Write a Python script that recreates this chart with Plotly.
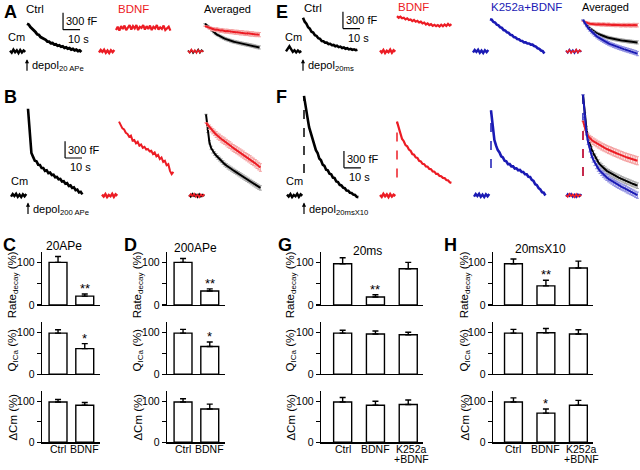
import plotly.graph_objects as go

W, H = 640, 470
FONT = "Liberation Sans, Arial, Helvetica, sans-serif"
BLACK = "#000000"
RED = "#ec1c24"
BLUE = "#1a1ab4"
RED_ERR = "#f4a0a0"
BLUE_ERR = "#8c8ce0"
GRAY_ERR = "#a8a8a8"

PX_PER_S = 1.7
PX_PER_FF = 17.0 / 300.0

# ---------------- trace data (time in s, capacitance change in fF) ----------------
T = [0, 1, 2, 3, 4, 5, 6, 7, 8, 9, 10, 11, 12, 13, 14, 15, 16, 17, 18, 19, 20,
     21, 22, 23, 24, 25, 26, 27, 28, 29, 30, 31, 32]
BT = [-10, -9, -8, -7, -6, -5, -4, -3, -2, -1]

BASE_1 = [10, -25, 30, -15, 20, -30, 25, -20, 15, -10]
BASE_2 = [-20, 25, -10, 30, -25, 15, -30, 20, -15, 25]
BASE_3 = [15, -20, 25, -30, 10, -15, 30, -25, 20, -5]
BASE_BUMP = [0, 40, 90, 40, -10, 20, -20, 15, -15, 5]

# Panel A (20 APe)
A_CTRL = [495, 480, 435, 410, 370, 345, 305, 295, 255, 240, 210, 205, 175, 172, 145, 148, 120,
          125, 100, 108, 82, 90, 62, 72, 48, 58, 32, 44, 18, 30, 5, 16, -12]
A_BDNF = [380, 440, 370, 450, 400, 460, 380, 430, 470, 390, 450, 410, 470, 380, 440, 420, 470,
          390, 450, 400, 460, 380, 440, 410, 470, 390, 430, 400, 460, 380, 420, 440, 370]
A_AVG_CTRL = [495, 470, 440, 410, 380, 350, 320, 300, 285, 265, 250, 235, 222, 210, 200, 190, 180,
              172, 165, 158, 150, 143, 137, 130, 124, 118, 112, 105, 98, 90, 82, 75, 70]
A_AVG_BDNF = [450, 440, 425, 415, 400, 395, 385, 390, 380, 372, 375, 365, 360, 362, 355, 350, 352,
              345, 340, 342, 335, 330, 333, 325, 320, 322, 315, 310, 312, 305, 300, 302, 298]
A_SEM_CTRL = [0, 10, 15, 18, 20, 20, 22, 22, 22, 24, 24, 24, 25, 25, 25, 25, 26,
              26, 26, 26, 27, 27, 27, 27, 28, 28, 28, 28, 28, 28, 28, 28, 28]
A_SEM_BDNF = [0, 15, 20, 25, 28, 30, 30, 32, 32, 32, 34, 34, 34, 35, 35, 35, 36,
              36, 36, 36, 37, 37, 37, 37, 38, 38, 38, 38, 38, 38, 38, 38, 38]

# Panel B (200 APe)
B_CTRL = [1550, 1050, 760, 690, 620, 610, 550, 545, 490, 490, 440, 450, 400, 410, 365, 370, 325,
          330, 290, 295, 250, 255, 210, 220, 170, 180, 135, 145, 95, 105, 55, 65, 20]
B_BDNF = [1320, 1270, 1200, 1180, 1120, 1100, 1050, 1070, 980, 990, 930, 960, 890, 910, 850, 870, 820,
          830, 790, 800, 740, 770, 700, 725, 650, 680, 600, 620, 540, 560, 440, 380, 420]
B_AVG_CTRL = [1450, 1150, 950, 850, 790, 750, 715, 680, 650, 620, 590, 560, 535, 510, 490, 470, 450,
              430, 410, 390, 370, 350, 330, 310, 290, 270, 250, 230, 210, 190, 170, 150, 135]
B_AVG_BDNF = [1300, 1260, 1220, 1180, 1150, 1120, 1090, 1060, 1040, 1010, 990, 970, 945, 920, 900, 875, 850,
              830, 810, 790, 770, 750, 730, 705, 685, 665, 645, 620, 600, 575, 550, 525, 500]
B_SEM_CTRL = [0, 25, 30, 30, 32, 32, 33, 33, 34, 34, 35, 35, 35, 36, 36, 36, 37,
              37, 37, 38, 38, 38, 38, 39, 39, 39, 39, 40, 40, 40, 40, 40, 40]
B_SEM_BDNF = [0, 30, 40, 45, 48, 50, 52, 54, 55, 56, 57, 58, 58, 59, 60, 60, 61,
              61, 62, 62, 63, 63, 64, 64, 65, 65, 66, 66, 67, 67, 68, 68, 68]

# Panel E (20 ms)
E_CTRL = [600, 530, 495, 430, 405, 350, 335, 290, 275, 235, 225, 185, 180, 155, 155, 130, 135,
          110, 115, 90, 100, 75, 85, 60, 70, 45, 55, 35, 45, 25, 35, 20, 30]
E_BDNF = [630, 600, 620, 590, 600, 570, 590, 560, 570, 540, 560, 530, 545, 515, 530, 500, 515,
          480, 500, 470, 485, 455, 475, 450, 470, 445, 475, 450, 480, 455, 490, 460, 485]
E_K252A = [575, 565, 525, 515, 475, 465, 430, 420, 380, 370, 340, 330, 295, 290, 255, 250, 220,
           215, 190, 185, 160, 160, 140, 140, 120, 120, 95, 85, 55, 45, 15, 5, -40]
E_AVG_CTRL = [560, 515, 475, 440, 410, 385, 362, 342, 325, 310, 296, 284, 272, 262, 252, 243, 235,
              228, 221, 215, 209, 204, 199, 194, 189, 185, 181, 177, 173, 169, 166, 163, 160]
E_AVG_BDNF = [540, 525, 510, 505, 495, 490, 492, 485, 482, 486, 480, 478, 482, 476, 474, 478, 472,
              470, 474, 468, 470, 472, 466, 468, 471, 465, 468, 470, 464, 467, 470, 465, 468]
E_AVG_K252A = [560, 505, 460, 420, 385, 352, 322, 295, 270, 248, 228, 209, 191, 174, 158, 143, 129,
               116, 104, 92, 81, 70, 60, 50, 40, 31, 22, 13, 4, -5, -15, -25, -40]
E_SEM_CTRL = [0, 12, 15, 18, 20, 20, 21, 22, 22, 23, 23, 24, 24, 24, 25, 25, 25,
              25, 26, 26, 26, 26, 27, 27, 27, 27, 28, 28, 28, 28, 28, 28, 28]
E_SEM_BDNF = [0, 15, 18, 20, 22, 22, 24, 24, 25, 25, 26, 26, 27, 27, 28, 28, 28,
              28, 29, 29, 29, 30, 30, 30, 30, 30, 31, 31, 31, 31, 32, 32, 32]
E_SEM_K252A = [0, 15, 20, 22, 25, 26, 27, 28, 29, 30, 30, 31, 32, 32, 33, 33, 34,
               34, 35, 35, 35, 36, 36, 36, 37, 37, 37, 38, 38, 38, 38, 38, 38]

# Panel F (20 ms x 10)
F_CTRL = [1780, 1560, 1400, 1220, 1120, 990, 920, 810, 760, 660, 630, 550, 530, 460, 450, 390, 380,
          320, 310, 250, 240, 190, 180, 140, 130, 90, 85, 50, 45, 15, 10, -25, -30]
F_BDNF = [1320, 1190, 1110, 1010, 970, 900, 880, 820, 800, 740, 730, 680, 670, 620, 610, 565, 560,
          520, 515, 475, 470, 430, 425, 385, 385, 350, 345, 315, 310, 275, 270, 235, 225]
F_K252A = [1520, 1210, 990, 890, 810, 770, 700, 680, 620, 610, 560, 560, 520, 520, 480, 485, 450,
           455, 420, 420, 380, 380, 335, 330, 280, 260, 200, 185, 130, 110, 60, 50, 0]
F_AVG_CTRL = [1800, 1450, 1200, 1040, 920, 830, 760, 700, 645, 595, 550, 520, 490, 465, 440, 420, 400,
              382, 365, 350, 335, 320, 305, 290, 275, 262, 250, 238, 225, 212, 200, 188, 175]
F_AVG_BDNF = [1330, 1200, 1120, 1060, 1020, 995, 970, 950, 930, 910, 895, 875, 860, 845, 830, 815, 805,
              790, 775, 765, 750, 740, 725, 715, 700, 690, 680, 670, 660, 650, 640, 630, 620]
F_AVG_K252A = [1800, 1400, 1130, 950, 820, 720, 640, 580, 525, 480, 440, 405, 375, 345, 320, 295, 275,
               255, 235, 215, 195, 180, 165, 150, 135, 120, 100, 85, 70, 55, 40, 20, 5]
F_SEM_CTRL = [0, 30, 35, 38, 40, 40, 42, 42, 43, 44, 44, 45, 45, 46, 46, 46, 47,
              47, 47, 48, 48, 48, 48, 49, 49, 49, 50, 50, 50, 50, 50, 50, 50]
F_SEM_BDNF = [0, 35, 45, 50, 55, 56, 58, 60, 60, 62, 62, 63, 64, 64, 65, 66, 66,
              67, 67, 68, 68, 69, 69, 70, 70, 70, 71, 71, 72, 72, 72, 72, 72]
F_SEM_K252A = [0, 30, 38, 40, 42, 44, 45, 46, 47, 48, 48, 49, 50, 50, 51, 51, 52,
               52, 53, 53, 54, 54, 54, 55, 55, 55, 56, 56, 56, 56, 56, 56, 56]
F_STIM_LOW = [400, 320, 490, 350]   # bottom of the dashed stimulation artefact, fF

# ---------------- bar data (% of control) ----------------
CATS_2 = ["Ctrl", "BDNF"]
CATS_3 = ["Ctrl", "BDNF", "K252a<br>+BDNF"]

C_RATE, C_RATE_SEM = [100, 21], [14, 5]
C_Q, C_Q_SEM = [98, 61], [8, 12]
C_DCM, C_DCM_SEM = [98, 90], [6, 7]

D_RATE, D_RATE_SEM = [100, 33], [9, 5]
D_Q, D_Q_SEM = [98, 66], [9, 11]
D_DCM, D_DCM_SEM = [98, 81], [8, 12]

G_RATE, G_RATE_SEM = [97, 19, 85], [14, 5, 15]
G_Q, G_Q_SEM = [98, 96, 94], [7, 7, 6]
G_DCM, G_DCM_SEM = [98, 90, 92], [11, 10, 11]

H_RATE, H_RATE_SEM = [97, 45, 87], [11, 13, 16]
H_Q, H_Q_SEM = [98, 99, 96], [9, 10, 10]
H_DCM, H_DCM_SEM = [98, 71, 90], [10, 10, 12]

C_STARS = [["", "**"], ["", "*"], ["", ""]]
D_STARS = [["", "**"], ["", "*"], ["", ""]]
G_STARS = [["", "**", ""], ["", "", ""], ["", "", ""]]
H_STARS = [["", "**", ""], ["", "", ""], ["", "*", ""]]

# ---------------- figure building ----------------
fig = go.Figure()
lay = dict(width=W, height=H, margin=dict(l=0, r=0, t=0, b=0),
           paper_bgcolor="white", plot_bgcolor="white", showlegend=False,
           font=dict(family=FONT, size=11, color=BLACK))
ann = []
shapes = []
n_ax = [0]


def px(x):
    return x / W


def py(y):
    return 1 - y / H


def add_axes(xdom, ydom, xaxis, yaxis):
    n_ax[0] += 1
    s = "" if n_ax[0] == 1 else str(n_ax[0])
    xaxis.update(domain=xdom, anchor="y" + s)
    yaxis.update(domain=ydom, anchor="x" + s)
    lay["xaxis" + s] = xaxis
    lay["yaxis" + s] = yaxis
    return "x" + s, "y" + s


def trace_panel(x0, x1, t0, y0, y1, base):
    xr = [(x0 - t0) / PX_PER_S, (x1 - t0) / PX_PER_S]
    yr = [(base - y1) / PX_PER_FF, (base - y0) / PX_PER_FF]
    hid = dict(visible=False, fixedrange=True, showgrid=False, zeroline=False)
    return add_axes([px(x0), px(x1)], [py(y1), py(y0)],
                    dict(range=xr, **hid), dict(range=yr, **hid))


def line(ax, x, y, color, width=2.4, dash=None, err=None, errcolor=None):
    tr = go.Scatter(x=x, y=y, mode="lines", line=dict(color=color, width=width, dash=dash),
                    xaxis=ax[0], yaxis=ax[1], hoverinfo="skip")
    if err is not None:
        tr.error_y = dict(type="data", array=err, color=errcolor, thickness=1, width=1.5, visible=True)
    fig.add_trace(tr)


def text(xpx, ypx, s, size=12, color=BLACK, xanchor="left", yanchor="middle", angle=0):
    ann.append(dict(x=px(xpx), y=py(ypx), xref="paper", yref="paper", text=s, showarrow=False,
                    xanchor=xanchor, yanchor=yanchor, textangle=angle,
                    font=dict(family=FONT, size=size, color=color)))


def atext(ax, x, y, s, size=11, xanchor="left", yanchor="middle", color=BLACK, yshift=0):
    ann.append(dict(x=x, y=y, xref=ax[0], yref=ax[1], text=s, showarrow=False,
                    xanchor=xanchor, yanchor=yanchor, yshift=yshift,
                    font=dict(family=FONT, size=size, color=color)))


def scalebar(ax, sx, sy):
    shapes.append(dict(type="line", xref=ax[0], yref=ax[1], x0=sx, x1=sx, y0=sy, y1=sy + 300,
                       line=dict(color=BLACK, width=1.2)))
    shapes.append(dict(type="line", xref=ax[0], yref=ax[1], x0=sx, x1=sx + 10, y0=sy, y1=sy,
                       line=dict(color=BLACK, width=1.2)))
    atext(ax, sx + 0.8, sy + 150, "300 fF", size=11)
    atext(ax, sx + 1.8, sy, "10 s", size=11, yanchor="top", yshift=-1)


def depol(ax, head_ff, label):
    ann.append(dict(x=0, y=head_ff, xref=ax[0], yref=ax[1], ax=0, ay=13, text="", showarrow=True,
                    arrowhead=2, arrowsize=0.7, arrowwidth=1.2, arrowcolor=BLACK))
    atext(ax, 1.8, head_ff - 130, "depol<sub>" + label + "</sub>", size=11)


# ---- Panel A ----
a1 = trace_panel(0, 95, 27, 2, 80, 52)
line(a1, BT, BASE_1, BLACK)
line(a1, T, A_CTRL, BLACK, width=2.8)
scalebar(a1, 21.2, 388)
atext(a1, -6, 120, "Cm", xanchor="center", yanchor="bottom")
depol(a1, -140, "20 APe")
a2 = trace_panel(95, 180, 116, 2, 80, 52)
line(a2, BT, BASE_2, RED)
line(a2, T, A_BDNF, RED, width=2.2)
a3 = trace_panel(180, 268, 205, 2, 80, 52)
line(a3, BT, BASE_3, BLACK, width=1.6)
line(a3, BT, BASE_1, RED, width=1.6)
line(a3, T, A_AVG_CTRL, BLACK, width=2.0, err=A_SEM_CTRL, errcolor=GRAY_ERR)
line(a3, T, A_AVG_BDNF, RED, width=2.0, err=A_SEM_BDNF, errcolor=RED_ERR)

# ---- Panel B ----
b1 = trace_panel(0, 95, 28, 88, 222, 198)
line(b1, BT, BASE_2, BLACK)
line(b1, T, B_CTRL, BLACK, width=2.6)
scalebar(b1, 21.8, 670)
atext(b1, -5, 110, "Cm", xanchor="center", yanchor="bottom")
depol(b1, -125, "200 APe")
b2 = trace_panel(95, 180, 119, 88, 222, 198)
line(b2, BT, BASE_3, RED)
line(b2, T, B_BDNF, RED, width=2.0)
b3 = trace_panel(180, 268, 206, 88, 222, 198)
line(b3, BT, BASE_1, BLACK, width=1.6)
line(b3, BT, BASE_2, RED, width=1.6)
line(b3, T, B_AVG_CTRL, BLACK, width=2.0, err=B_SEM_CTRL, errcolor=GRAY_ERR)
line(b3, T, B_AVG_BDNF, RED, width=2.0, err=B_SEM_BDNF, errcolor=RED_ERR)

# ---- Panel E ----
e1 = trace_panel(270, 370, 303, 2, 80, 52)
line(e1, BT, BASE_BUMP, BLACK)
line(e1, T, E_CTRL, BLACK, width=2.6)
scalebar(e1, 23.5, 406)
atext(e1, -5.5, 120, "Cm", xanchor="center", yanchor="bottom")
depol(e1, -140, "20ms")
e2 = trace_panel(370, 463, 397, 2, 80, 52)
line(e2, BT, BASE_3, RED)
line(e2, T, E_BDNF, RED, width=2.2)
e3 = trace_panel(463, 556, 490, 2, 80, 52)
line(e3, BT, BASE_2, BLUE)
line(e3, T, E_K252A, BLUE, width=2.6)
e4 = trace_panel(556, 640, 583, 2, 80, 52)
line(e4, BT, BASE_1, BLUE, width=1.8)
line(e4, BT, BASE_3, RED, width=1.6)
line(e4, T, E_AVG_CTRL, BLACK, width=2.0, err=E_SEM_CTRL, errcolor=GRAY_ERR)
line(e4, T, E_AVG_BDNF, RED, width=2.0, err=E_SEM_BDNF, errcolor=RED_ERR)
line(e4, T, E_AVG_K252A, BLUE, width=2.0, err=E_SEM_K252A, errcolor=BLUE_ERR)

# ---- Panel F ----
f_cols = [(270, 370, 304), (370, 463, 397), (463, 556, 491), (556, 640, 583)]
f1 = trace_panel(*f_cols[0], 88, 222, 198)
line(f1, BT, BASE_3, BLACK)
line(f1, [T[0], T[0]], [F_STIM_LOW[0], F_CTRL[0]], BLACK, width=1.5, dash="dash")
line(f1, T, F_CTRL, BLACK, width=2.6)
scalebar(f1, 23.5, 494)
atext(f1, -5.5, 110, "Cm", xanchor="center", yanchor="bottom")
depol(f1, -125, "20msX10")
f2 = trace_panel(*f_cols[1], 88, 222, 198)
line(f2, BT, BASE_1, RED)
line(f2, [T[0], T[0]], [F_STIM_LOW[1], F_BDNF[0]], RED, width=1.5, dash="dash")
line(f2, T, F_BDNF, RED, width=2.2)
f3 = trace_panel(*f_cols[2], 88, 222, 198)
line(f3, BT, BASE_2, BLUE)
line(f3, [T[0], T[0]], [F_STIM_LOW[2], F_K252A[0]], BLUE, width=1.5, dash="dash")
line(f3, T, F_K252A, BLUE, width=2.6)
f4 = trace_panel(*f_cols[3], 88, 222, 198)
line(f4, BT, BASE_2, BLUE, width=1.8)
line(f4, BT, BASE_1, RED, width=1.6)
line(f4, [T[0], T[0]], [F_STIM_LOW[3], F_AVG_K252A[0]], BLUE, width=1.5, dash="dash")
line(f4, [T[0], T[0]], [F_STIM_LOW[3], F_AVG_BDNF[0]], RED, width=1.5, dash="dash")
line(f4, T, F_AVG_CTRL, BLACK, width=2.0, err=F_SEM_CTRL, errcolor=GRAY_ERR)
line(f4, T, F_AVG_BDNF, RED, width=2.0, err=F_SEM_BDNF, errcolor=RED_ERR)
line(f4, T, F_AVG_K252A, BLUE, width=2.0, err=F_SEM_K252A, errcolor=BLUE_ERR)

# ---- trace panel labels ----
text(2, 12, "<b>A</b>", size=18)
text(2, 98, "<b>B</b>", size=18)
text(274, 12, "<b>E</b>", size=18)
text(274, 98, "<b>F</b>", size=18)
text(24, 9, "Ctrl", size=11.5)
text(116, 9, "BDNF", size=11.5, color=RED)
text(202, 9, "Averaged", size=11)
text(302, 8, "Ctrl", size=11.5)
text(396, 7, "BDNF", size=11.5, color=RED)
text(489, 7, "K252a+BDNF", size=11.5, color=BLUE)
text(580, 7, "Averaged", size=11)

# ---- bar panels ----
ROWS = [(255, 309), (326, 379), (396, 448)]
TITLE_Y = [289, 355, 423]
YTITLES = ["Rate<sub>decay</sub> (%)", "Q<sub>ICa</sub> (%)", "\u0394Cm (%)"]


def bar_panel(x0, x1, cats, rows, stars, xr, width, title_x):
    for i, ((y0, y1), (vals, sems)) in enumerate(zip(ROWS, rows)):
        xa = dict(type="category", range=xr, showline=True, linecolor=BLACK, linewidth=1.3,
                  ticks="", showticklabels=False, showgrid=False, zeroline=False, fixedrange=True)
        ya = dict(range=[0, 125], showline=True, linecolor=BLACK, linewidth=1.3, ticks="outside",
                  ticklen=4, tickwidth=1.2, tickcolor=BLACK, tickvals=[0, 50, 100],
                  ticktext=["0", " ", "100"], tickfont=dict(size=10.5), showgrid=False,
                  zeroline=False, fixedrange=True)
        ax = add_axes([px(x0), px(x1)], [py(y1), py(y0)], xa, ya)
        fig.add_trace(go.Bar(x=cats, y=vals, width=width,
                             marker=dict(color="white", line=dict(color=BLACK, width=1.4)),
                             error_y=dict(type="data", array=sems, arrayminus=[0] * len(sems),
                                          symmetric=False, color=BLACK, thickness=1.4, width=3),
                             xaxis=ax[0], yaxis=ax[1], hoverinfo="skip"))
        for c, v, s, st in zip(cats, vals, sems, stars[i]):
            if st:
                atext(ax, c, v + s, st, size=13, xanchor="center", yanchor="bottom", yshift=-4)
        text(title_x, TITLE_Y[i], YTITLES[i], size=11.5, xanchor="center", angle=-90)
        if i == 2:
            for c in cats:
                parts = c.split("<br>")
                for k, part in enumerate(parts):
                    ann.append(dict(x=c, y=py(y1 + 7 + 10 * k), xref=ax[0], yref="paper", text=part,
                                    showarrow=False, xanchor="center", yanchor="middle",
                                    xshift=(3 if len(parts) > 1 else 0), borderpad=0,
                                    font=dict(family=FONT, size=10.5, color=BLACK)))


bar_panel(42, 100, CATS_2, [(C_RATE, C_RATE_SEM), (C_Q, C_Q_SEM), (C_DCM, C_DCM_SEM)],
          C_STARS, [-0.6, 1.57], 0.67, 13)
bar_panel(167, 225, CATS_2, [(D_RATE, D_RATE_SEM), (D_Q, D_Q_SEM), (D_DCM, D_DCM_SEM)],
          D_STARS, [-0.6, 1.57], 0.67, 138)
bar_panel(321, 423, CATS_3, [(G_RATE, G_RATE_SEM), (G_Q, G_Q_SEM), (G_DCM, G_DCM_SEM)],
          G_STARS, [-0.66, 2.45], 0.55, 291)
bar_panel(493, 593, CATS_3, [(H_RATE, H_RATE_SEM), (H_Q, H_Q_SEM), (H_DCM, H_DCM_SEM)],
          H_STARS, [-0.63, 2.45], 0.55, 465)

text(1, 248, "<b>C</b>", size=18)
text(122, 248, "<b>D</b>", size=18)
text(276, 248, "<b>G</b>", size=18)
text(442, 248, "<b>H</b>", size=18)
text(64, 249, "20APe", xanchor="center")
text(195, 251, "200APe", xanchor="center")
text(367, 254, "20ms", xanchor="center")
text(540, 252, "20msX10", xanchor="center")

lay["annotations"] = ann
lay["shapes"] = shapes
fig.update_layout(**lay)
fig.write_html("out.html", config={"displayModeBar": False, "staticPlot": True},
               post_script="document.body.style.margin='0px';document.body.style.overflow='hidden';")
